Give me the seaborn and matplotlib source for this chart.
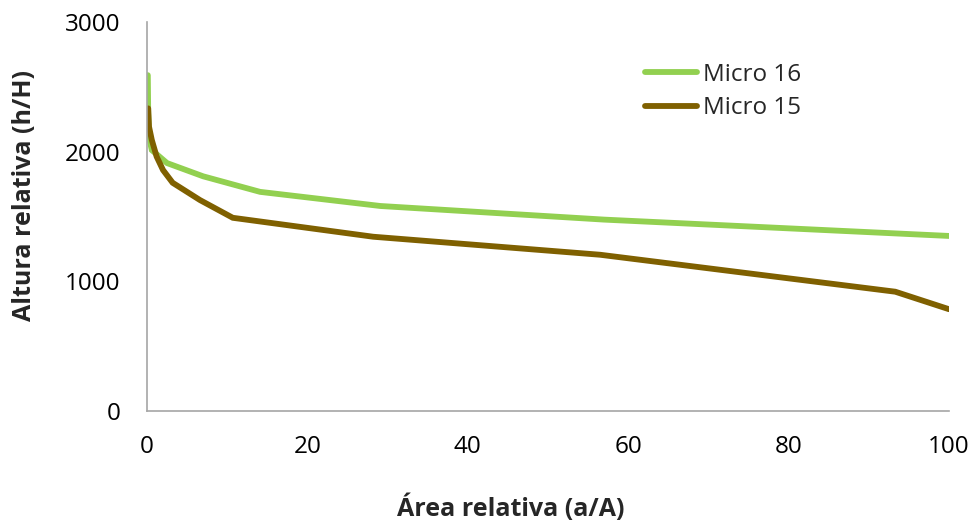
import matplotlib
matplotlib.use("Agg")
import matplotlib.pyplot as plt
import seaborn as sns
import pandas as pd

# Data
micro16_x = [0.1, 0.15, 0.25, 0.6, 2.5, 7.0, 14.1, 29.1, 57.0, 100.0]
micro16_y = [2590, 2300, 2110, 2012, 1912, 1810, 1690, 1581, 1476, 1350]
micro15_x = [0.15, 0.25, 0.6, 1.2, 2.0, 3.2, 6.6, 10.7, 28.2, 56.5, 93.3, 100.0]
micro15_y = [2334, 2193, 2090, 1962, 1858, 1760, 1627, 1490, 1344, 1205, 920, 785]
series_names = ["Micro 16", "Micro 15"]
x_ticks = [0, 20, 40, 60, 80, 100]
y_ticks = [0, 1000, 2000, 3000]
x_label = "Área relativa (a/A)"
y_label = "Altura relativa (h/H)"

df = pd.concat([
    pd.DataFrame({"x": micro16_x, "y": micro16_y, "serie": series_names[0]}),
    pd.DataFrame({"x": micro15_x, "y": micro15_y, "serie": series_names[1]}),
], ignore_index=True)

sns.set_theme(style="white")
plt.rcParams["font.family"] = ["Open Sans", "DejaVu Sans"]

W, H = 974, 525
fig = plt.figure(figsize=(W / 100, H / 100), dpi=100)
ax = fig.add_axes([147 / W, (H - 411) / H, (949 - 147) / W, (411 - 22) / H])

palette = {"Micro 16": "#92D050", "Micro 15": "#7F6000"}
sns.lineplot(data=df, x="x", y="y", hue="serie", hue_order=series_names,
             palette=palette, estimator=None, sort=False, linewidth=4.2,
             ax=ax)
for line in ax.get_lines():
    line.set_solid_joinstyle("miter")

ax.set_xlim(0, 100)
ax.set_ylim(0, 3000)
ax.set_xticks(x_ticks)
ax.set_yticks(y_ticks)
ax.tick_params(axis="both", length=0, labelsize=17.5, colors="#000000")
ax.tick_params(axis="y", pad=19)
ax.tick_params(axis="x", pad=17)
ax.set_xlabel(x_label, fontsize=18, fontweight="bold")
ax.set_ylabel(y_label, fontsize=18, fontweight="bold")
ax.xaxis.set_label_coords(0.454, -0.249)
ax.xaxis.label.set_verticalalignment("center")
ax.yaxis.set_label_coords(-0.153, 0.553)
ax.yaxis.label.set_verticalalignment("center")

for s in ["top", "right"]:
    ax.spines[s].set_visible(False)
for s in ["left", "bottom"]:
    ax.spines[s].set_color("#A6A6A6")
    ax.spines[s].set_linewidth(1.2)

leg = ax.legend(loc="upper left", bbox_to_anchor=(0.609, 0.92), frameon=False,
                fontsize=17.5, handlelength=2.15, handletextpad=0.25,
                labelspacing=0.38, borderaxespad=0)
for h in leg.get_lines():
    h.set_linewidth(4.2)
    h.set_solid_capstyle("round")

fig.savefig("out.png", dpi=100)
